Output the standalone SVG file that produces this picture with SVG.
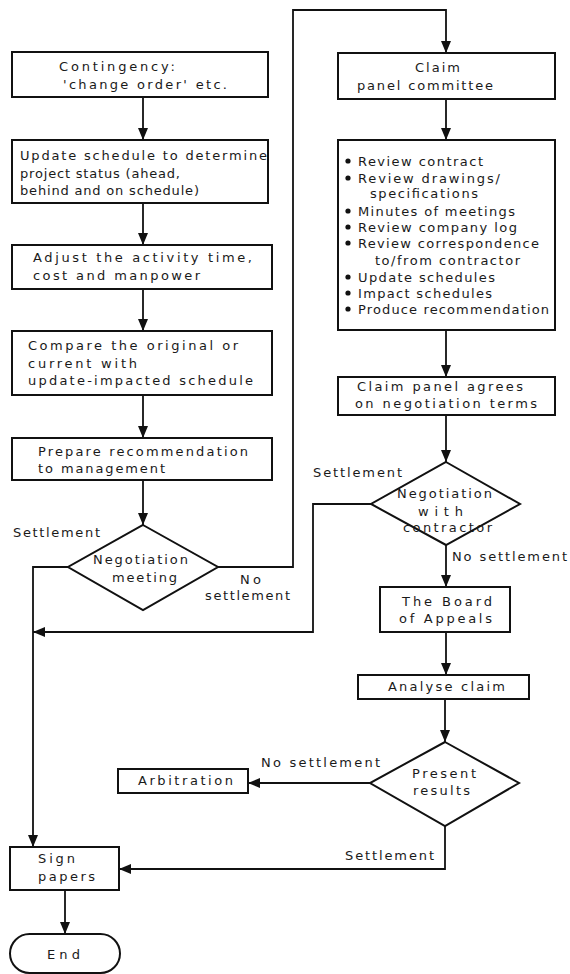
<svg xmlns="http://www.w3.org/2000/svg" width="570" height="974" viewBox="0 0 570 974">
<defs>
<marker id="ah" viewBox="0 0 12 10" refX="12" refY="5" markerWidth="12" markerHeight="10" markerUnits="userSpaceOnUse" orient="auto">
<path d="M0,0 L12,5 L0,10 Z" fill="#111"/>
</marker>
<style>
.n{fill:#fff;stroke:#111;stroke-width:2}
.c{fill:none;stroke:#111;stroke-width:1.8}
.a{marker-end:url(#ah)}
text{font-family:"DejaVu Sans","Noto Sans",sans-serif;font-size:13px;fill:#1a1a1a}
.b{fill:#111}
</style>
</defs>
<rect width="570" height="974" fill="#fff"/>
<g id="connectors">
<path class="c a" d="M143,97 V140"/>
<path class="c a" d="M143,203 V245"/>
<path class="c a" d="M143,289 V331"/>
<path class="c a" d="M143,395 V438"/>
<path class="c a" d="M143,480 V525"/>
<path class="c a" d="M218,567 H293 V10 H446 V53"/>
<path class="c a" d="M68,567 H33 V847"/>
<path class="c a" d="M446,99 V140"/>
<path class="c a" d="M446,330 V377"/>
<path class="c a" d="M446,415 V462"/>
<path class="c a" d="M371,504 H313 V632 H33"/>
<path class="c a" d="M446,545 V587"/>
<path class="c a" d="M446,632 V675"/>
<path class="c a" d="M445,699 V742"/>
<path class="c a" d="M370,783 H248"/>
<path class="c a" d="M445,826 V869 H119"/>
<path class="c a" d="M65,890 V934"/>
</g>
<g id="n1"><rect class="n" x="12" y="52" width="256" height="45"/>
<text x="59" y="71" textLength="116" lengthAdjust="spacing">Contingency:</text>
<text x="63" y="89" textLength="164" lengthAdjust="spacing">'change order' etc.</text></g>
<g id="n2"><rect class="n" x="12" y="140" width="256" height="63"/>
<text x="20" y="160" textLength="247" lengthAdjust="spacing">Update schedule to determine</text>
<text x="20" y="178" textLength="160" lengthAdjust="spacing">project status (ahead,</text>
<text x="20" y="195" textLength="179" lengthAdjust="spacing">behind and on schedule)</text></g>
<g id="n3"><rect class="n" x="12" y="245" width="260" height="44"/>
<text x="33" y="262" textLength="219" lengthAdjust="spacing">Adjust the activity time,</text>
<text x="33" y="280" textLength="167" lengthAdjust="spacing">cost and manpower</text></g>
<g id="n4"><rect class="n" x="12" y="331" width="260" height="64"/>
<text x="28" y="350" textLength="210" lengthAdjust="spacing">Compare the original or</text>
<text x="28" y="368" textLength="109" lengthAdjust="spacing">current with</text>
<text x="28" y="385" textLength="225" lengthAdjust="spacing">update-impacted schedule</text></g>
<g id="n5"><rect class="n" x="12" y="438" width="260" height="42"/>
<text x="38" y="456" textLength="210" lengthAdjust="spacing">Prepare recommendation</text>
<text x="38" y="473" textLength="127" lengthAdjust="spacing">to management</text></g>
<g id="d1"><path class="n" d="M143,525 L218,567 L143,610 L68,567 Z"/>
<text x="93" y="564" textLength="95" lengthAdjust="spacing">Negotiation</text>
<text x="112" y="582" textLength="65" lengthAdjust="spacing">meeting</text></g>
<g id="n6"><rect class="n" x="338" y="53" width="217" height="46"/>
<text x="415" y="72" textLength="45" lengthAdjust="spacing">Claim</text>
<text x="357" y="90" textLength="136" lengthAdjust="spacing">panel committee</text></g>
<g id="n7"><rect class="n" x="338" y="140" width="217" height="190"/>
<circle class="b" cx="348" cy="161" r="2.6"/>
<circle class="b" cx="348" cy="178" r="2.6"/>
<circle class="b" cx="348" cy="211" r="2.6"/>
<circle class="b" cx="348" cy="227" r="2.6"/>
<circle class="b" cx="348" cy="243" r="2.6"/>
<circle class="b" cx="348" cy="277" r="2.6"/>
<circle class="b" cx="348" cy="293" r="2.6"/>
<circle class="b" cx="348" cy="309" r="2.6"/>
<text x="358" y="166" textLength="125" lengthAdjust="spacing">Review contract</text>
<text x="358" y="183" textLength="142" lengthAdjust="spacing">Review drawings/</text>
<text x="370" y="198" textLength="108" lengthAdjust="spacing">specifications</text>
<text x="358" y="216" textLength="157" lengthAdjust="spacing">Minutes of meetings</text>
<text x="358" y="232" textLength="159" lengthAdjust="spacing">Review company log</text>
<text x="358" y="248" textLength="181" lengthAdjust="spacing">Review correspondence</text>
<text x="375" y="265" textLength="145" lengthAdjust="spacing">to/from contractor</text>
<text x="358" y="282" textLength="137" lengthAdjust="spacing">Update schedules</text>
<text x="358" y="298" textLength="134" lengthAdjust="spacing">Impact schedules</text>
<text x="358" y="314" textLength="191" lengthAdjust="spacing">Produce recommendation</text></g>
<g id="n8"><rect class="n" x="338" y="377" width="217" height="38"/>
<text x="357" y="391" textLength="166" lengthAdjust="spacing">Claim panel agrees</text>
<text x="355" y="408" textLength="182" lengthAdjust="spacing">on negotiation terms</text></g>
<g id="d2"><path class="n" d="M446,462 L520,504 L446,545 L371,504 Z"/>
<text x="397" y="498" textLength="95" lengthAdjust="spacing">Negotiation</text>
<text x="418" y="516" textLength="45" lengthAdjust="spacing">with</text>
<text x="403" y="532" textLength="89" lengthAdjust="spacing">contractor</text></g>
<g id="n9"><rect class="n" x="380" y="587" width="130" height="45"/>
<text x="402" y="606" textLength="90" lengthAdjust="spacing">The Board</text>
<text x="399" y="623" textLength="93" lengthAdjust="spacing">of Appeals</text></g>
<g id="n10"><rect class="n" x="358" y="675" width="171" height="24"/>
<text x="388" y="691" textLength="117" lengthAdjust="spacing">Analyse claim</text></g>
<g id="d3"><path class="n" d="M445,742 L519,783 L445,826 L370,783 Z"/>
<text x="412" y="778" textLength="64" lengthAdjust="spacing">Present</text>
<text x="413" y="795" textLength="57" lengthAdjust="spacing">results</text></g>
<g id="n11"><rect class="n" x="118" y="769" width="130" height="24"/>
<text x="138" y="785" textLength="95" lengthAdjust="spacing">Arbitration</text></g>
<g id="n12"><rect class="n" x="10" y="847" width="109" height="43"/>
<text x="38" y="863" textLength="37" lengthAdjust="spacing">Sign</text>
<text x="38" y="881" textLength="57" lengthAdjust="spacing">papers</text></g>
<g id="n13"><rect class="n" x="10" y="934" width="110" height="39" rx="19.5"/>
<text x="47" y="959" textLength="33" lengthAdjust="spacing">End</text></g>
<g id="labels">
<text x="13" y="537" textLength="87" lengthAdjust="spacing">Settlement</text>
<text x="240" y="584" textLength="21" lengthAdjust="spacing">No</text>
<text x="205" y="600" textLength="85" lengthAdjust="spacing">settlement</text>
<text x="313" y="477" textLength="89" lengthAdjust="spacing">Settlement</text>
<text x="452" y="561" textLength="115" lengthAdjust="spacing">No settlement</text>
<text x="261" y="767" textLength="119" lengthAdjust="spacing">No settlement</text>
<text x="345" y="860" textLength="89" lengthAdjust="spacing">Settlement</text>
</g>
</svg>
